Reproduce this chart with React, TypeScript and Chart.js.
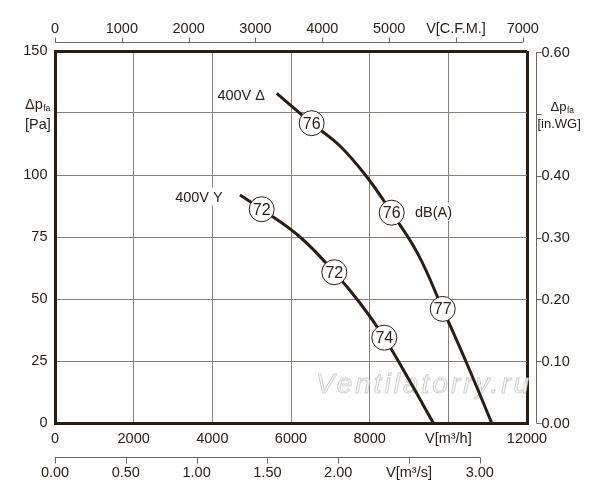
import { useEffect, useRef } from "react";
import { Chart, registerables } from "chart.js";

Chart.register(...registerables);

const FONT = "'Liberation Sans', Arial, Helvetica, sans-serif";
const INK = "#2a1d12";
const TEXT = "#2b2118";
const GRID = "#8a8074";
const AXIS2 = "#6e6457";

// ---- main axes (m³/h, Pa)
const flowTicks = [0, 2000, 4000, 6000, 8000, 10000, 12000];
const flowUnitAt = 10000;
const flowUnit = "V[m³/h]";
const pressureTicks = [0, 25, 50, 75, 100, 125, 150];
const pressureUnitAt = 125;

// ---- secondary axes
const cfmTicks = [0, 1000, 2000, 3000, 4000, 5000, 6000, 7000];
const cfmUnitAt = 6000;
const cfmUnit = "V[C.F.M.]";
const inwgTicks = [0, 0.1, 0.2, 0.3, 0.4, 0.5, 0.6];
const inwgUnitAt = 0.5;
const m3sTicks = [0, 0.5, 1.0, 1.5, 2.0, 2.5, 3.0];
const m3sUnitAt = 2.5;
const m3sUnit = "V[m³/s]";

const M3H_PER_CFM = 1.699;
const PA_PER_INWG = 249.09;
const M3H_PER_M3S = 3600;

// ---- curves
const deltaFlow = [5637, 6526, 7246, 7925, 8560, 9229, 9857, 10475, 11103];
const deltaPressure = [132.9, 120.9, 111.7, 99.3, 84.8, 68.1, 46.0, 23.8, 0];
const starFlow = [4703, 5255, 6229, 7101, 7754, 8372, 8975, 9618];
const starPressure = [91.9, 86.2, 75.0, 60.8, 48.4, 34.4, 18.1, 0];

// ---- sound level marks
const deltaMarkFlow = [6526, 8560, 9857];
const deltaMarkPressure = [120.9, 84.8, 46.0];
const deltaMarkDb = ["76", "76", "77"];
const starMarkFlow = [5255, 7101, 8372];
const starMarkPressure = [86.2, 60.8, 34.4];
const starMarkDb = ["72", "72", "74"];

// ---- curve labels
const curveLabels = ["400V Δ", "400V Y", "dB(A)"];
const curveLabelFlow = [5339, 4264, 9153];
const curveLabelPressure = [132.3, 91.25, 85.2];
const curveLabelAlign: CanvasTextAlign[] = ["right", "right", "left"];

const watermark = "Ventilatorry.ru";

const pts = (xs: number[], ys: number[]) => xs.map((x, i) => ({ x, y: ys[i] }));

function drawDp(ctx: CanvasRenderingContext2D, x: number, y: number, size: number, sub: number, unit: string, ux: number, uy: number) {
  ctx.textAlign = "left";
  ctx.textBaseline = "alphabetic";
  ctx.font = `${size}px ${FONT}`;
  ctx.fillText("Δp", x, y);
  const w = ctx.measureText("Δp").width;
  ctx.font = `${sub}px ${FONT}`;
  ctx.fillText("fa", x + w + 0.5, y + 2);
  ctx.font = `${size}px ${FONT}`;
  ctx.fillText(unit, ux, uy);
}

const decorPlugin = {
  id: "decor",
  beforeDatasetsDraw(chart: any) {
    const ctx: CanvasRenderingContext2D = chart.ctx;
    ctx.save();
    ctx.font = `italic 28px ${FONT}`;
    (ctx as any).letterSpacing = "3px";
    ctx.textAlign = "left";
    ctx.textBaseline = "alphabetic";
    ctx.fillStyle = "rgba(248,248,248,0.9)";
    ctx.strokeStyle = "rgba(190,190,190,0.75)";
    ctx.lineWidth = 0.9;
    ctx.fillText(watermark, 316, 393);
    ctx.strokeText(watermark, 316, 393);
    ctx.restore();
  },
  afterDatasetsDraw(chart: any) {
    const ctx: CanvasRenderingContext2D = chart.ctx;
    const { x, y } = chart.scales;
    ctx.save();
    ctx.fillStyle = TEXT;
    ctx.font = `16px ${FONT}`;
    ctx.textAlign = "center";
    ctx.textBaseline = "middle";
    const m0 = chart.getDatasetMeta(0).data;
    m0.forEach((p: any, i: number) => ctx.fillText(deltaMarkDb[i], p.x, p.y + 1));
    const m1 = chart.getDatasetMeta(1).data;
    m1.forEach((p: any, i: number) => ctx.fillText(starMarkDb[i], p.x, p.y + 1));

    ctx.font = `14.5px ${FONT}`;
    curveLabels.forEach((t, i) => {
      const px = x.getPixelForValue(curveLabelFlow[i]);
      const py = y.getPixelForValue(curveLabelPressure[i]);
      const w = ctx.measureText(t).width;
      const left = curveLabelAlign[i] === "right" ? px - w : px;
      ctx.fillStyle = "#ffffff";
      ctx.fillRect(left - 2, py - 9, w + 4, 18);
      ctx.fillStyle = TEXT;
      ctx.textAlign = "left";
      ctx.fillText(t, left, py + 1);
    });
    ctx.restore();
  },
  afterDraw(chart: any) {
    const ctx: CanvasRenderingContext2D = chart.ctx;
    const { xCfm, yInwg, xM3s, y } = chart.scales;
    const area = chart.chartArea;
    ctx.save();
    ctx.strokeStyle = AXIS2;
    ctx.lineWidth = 1;
    ctx.fillStyle = TEXT;
    ctx.font = `14.5px ${FONT}`;

    // top CFM axis
    const topY = Math.round(area.top - 9) + 0.5;
    const cx0 = xCfm.getPixelForValue(cfmTicks[0]);
    const cx1 = xCfm.getPixelForValue(cfmTicks[cfmTicks.length - 1]);
    ctx.beginPath();
    ctx.moveTo(cx0, topY);
    ctx.lineTo(cx1, topY);
    cfmTicks.forEach((v) => {
      const px = Math.round(xCfm.getPixelForValue(v)) + 0.5;
      ctx.moveTo(px, topY);
      ctx.lineTo(px, topY - 5);
    });
    ctx.stroke();
    ctx.textAlign = "center";
    ctx.textBaseline = "middle";
    cfmTicks.forEach((v) => {
      const px = xCfm.getPixelForValue(v);
      ctx.fillText(v === cfmUnitAt ? cfmUnit : String(v), px, topY - 14);
    });

    // right in.WG axis
    const rx = Math.round(area.right + 9) + 0.5;
    ctx.beginPath();
    ctx.moveTo(rx, yInwg.getPixelForValue(inwgTicks[0]));
    ctx.lineTo(rx, yInwg.getPixelForValue(inwgTicks[inwgTicks.length - 1]));
    inwgTicks.forEach((v) => {
      const py = Math.round(yInwg.getPixelForValue(v)) + 0.5;
      ctx.moveTo(rx, py);
      ctx.lineTo(rx + 5, py);
    });
    ctx.stroke();
    ctx.textAlign = "left";
    ctx.textBaseline = "middle";
    inwgTicks.forEach((v) => {
      if (Math.abs(v - inwgUnitAt) < 1e-9) return;
      ctx.fillText(v.toFixed(2), rx + 5, yInwg.getPixelForValue(v) + 0.5);
    });
    const pu = yInwg.getPixelForValue(inwgUnitAt);
    drawDp(ctx, rx + 14, pu - 3, 13, 8.5, "[in.WG]", rx + 1, pu + 14);

    // bottom m³/s axis
    const by = Math.round(area.bottom + 34) + 0.5;
    ctx.beginPath();
    ctx.moveTo(xM3s.getPixelForValue(m3sTicks[0]), by);
    ctx.lineTo(xM3s.getPixelForValue(m3sTicks[m3sTicks.length - 1]), by);
    m3sTicks.forEach((v) => {
      const px = Math.round(xM3s.getPixelForValue(v)) + 0.5;
      ctx.moveTo(px, by);
      ctx.lineTo(px, by + 6);
    });
    ctx.stroke();
    ctx.font = `14.5px ${FONT}`;
    ctx.textAlign = "center";
    ctx.textBaseline = "middle";
    m3sTicks.forEach((v) => {
      ctx.fillText(Math.abs(v - m3sUnitAt) < 1e-9 ? m3sUnit : v.toFixed(2), xM3s.getPixelForValue(v), by + 15);
    });

    // left unit label
    const pl = y.getPixelForValue(pressureUnitAt);
    ctx.fillStyle = TEXT;
    drawDp(ctx, 25, pl - 4, 14.5, 8.5, "[Pa]", 25, pl + 16);
    ctx.restore();
  },
};

export default function App() {
  const ref = useRef<HTMLCanvasElement | null>(null);
  useEffect(() => {
    if (!ref.current) return;
    Chart.defaults.font.family = FONT;
    const edgeX = (v: number) => v === flowTicks[0] || v === flowTicks[flowTicks.length - 1];
    const edgeY = (v: number) => v === pressureTicks[0] || v === pressureTicks[pressureTicks.length - 1];
    const chart = new Chart(ref.current, {
      type: "line",
      data: {
        datasets: [
          {
            type: "scatter",
            label: "dB Δ",
            data: pts(deltaMarkFlow, deltaMarkPressure),
            pointRadius: 12.5,
            pointBackgroundColor: "#ffffff",
            pointBorderColor: INK,
            pointBorderWidth: 1,
            showLine: false,
            order: 0,
          } as any,
          {
            type: "scatter",
            label: "dB Y",
            data: pts(starMarkFlow, starMarkPressure),
            pointRadius: 12.5,
            pointBackgroundColor: "#ffffff",
            pointBorderColor: INK,
            pointBorderWidth: 1,
            showLine: false,
            order: 0,
          } as any,
          {
            label: "400V Δ",
            data: pts(deltaFlow, deltaPressure),
            borderColor: INK,
            borderWidth: 3,
            pointRadius: 0,
            tension: 0.4,
            fill: false,
            order: 1,
          },
          {
            label: "400V Y",
            data: pts(starFlow, starPressure),
            borderColor: INK,
            borderWidth: 3,
            pointRadius: 0,
            tension: 0.4,
            fill: false,
            order: 1,
          },
        ],
      },
      options: {
        responsive: false,
        animation: false,
        events: [],
        layout: { padding: { left: 0, top: 51, right: 73, bottom: 0 } },
        plugins: { legend: { display: false }, tooltip: { enabled: false } },
        scales: {
          x: {
            type: "linear",
            position: "bottom",
            min: flowTicks[0],
            max: flowTicks[flowTicks.length - 1],
            afterBuildTicks: (s: any) => {
              s.ticks = flowTicks.map((v) => ({ value: v }));
            },
            afterFit: (s: any) => {
              s.height = 77;
            },
            ticks: {
              autoSkip: false,
              maxRotation: 0,
              padding: 7,
              color: TEXT,
              font: { size: 14.5 },
              callback: (v: any) => (v === flowUnitAt ? flowUnit : String(v)),
            },
            grid: {
              drawTicks: false,
              color: (c: any) => (edgeX(c.tick?.value) ? INK : GRID),
              lineWidth: (c: any) => (edgeX(c.tick?.value) ? 3 : 1),
            },
            border: { display: true, color: INK, width: 3 },
          },
          y: {
            type: "linear",
            position: "left",
            min: pressureTicks[0],
            max: pressureTicks[pressureTicks.length - 1],
            afterBuildTicks: (s: any) => {
              s.ticks = pressureTicks.map((v) => ({ value: v }));
            },
            afterFit: (s: any) => {
              s.width = 55;
            },
            ticks: {
              autoSkip: false,
              padding: 7.5,
              color: TEXT,
              font: { size: 14.5 },
              callback: (v: any) => (v === pressureUnitAt ? "" : String(v)),
            },
            grid: {
              drawTicks: false,
              color: (c: any) => (edgeY(c.tick?.value) ? INK : GRID),
              lineWidth: (c: any) => (edgeY(c.tick?.value) ? 3 : 1),
            },
            border: { display: true, color: INK, width: 3 },
          },
          xCfm: {
            type: "linear",
            axis: "x",
            display: false,
            min: 0,
            max: flowTicks[flowTicks.length - 1] / M3H_PER_CFM,
          },
          yInwg: {
            type: "linear",
            axis: "y",
            display: false,
            min: 0,
            max: pressureTicks[pressureTicks.length - 1] / PA_PER_INWG,
          },
          xM3s: {
            type: "linear",
            axis: "x",
            display: false,
            min: 0,
            max: flowTicks[flowTicks.length - 1] / M3H_PER_M3S,
          },
        } as any,
      },
      plugins: [decorPlugin],
    });
    return () => chart.destroy();
  }, []);
  return (
    <div style={{ position: "absolute", left: 0, top: 0, width: 600, height: 500, background: "#ffffff" }}>
      <canvas ref={ref} width={600} height={500} style={{ width: 600, height: 500, display: "block" }} />
    </div>
  );
}
